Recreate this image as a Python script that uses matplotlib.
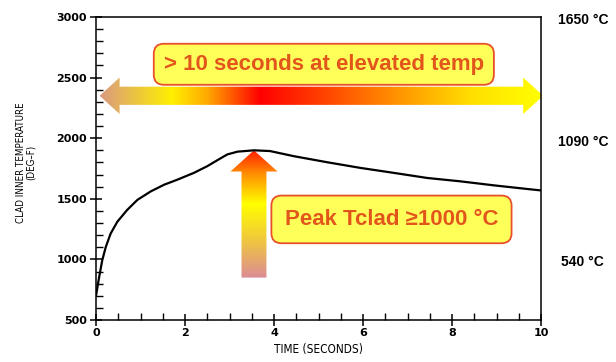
import numpy as np
import matplotlib.pyplot as plt
from matplotlib.colors import LinearSegmentedColormap
from matplotlib.patches import Polygon
from matplotlib.ticker import MultipleLocator
from matplotlib.transforms import ScaledTranslation

# Clad inner temperature transient (deg F) vs time (s)
time_s = [0.0, 0.07, 0.14, 0.22, 0.33, 0.48, 0.70, 0.93, 1.23, 1.53, 1.83,
          2.20, 2.50, 2.73, 2.95, 3.18, 3.55, 3.91, 4.44, 5.19, 5.94, 6.69,
          7.44, 8.19, 8.94, 9.69, 10.0]
clad_temp_f = [700, 853, 992, 1103, 1214, 1311, 1408, 1491, 1561, 1616, 1658,
               1714, 1769, 1819, 1866, 1889, 1900, 1894, 1852, 1802, 1755, 1714,
               1672, 1644, 1611, 1581, 1569]

# Celsius reference marks on the right-hand side
celsius_marks = [540, 1090, 1650]

x_ticks = [0, 2, 4, 6, 8, 10]
y_ticks = [500, 1000, 1500, 2000, 2500, 3000]

callout_span = "> 10 seconds at elevated temp"
callout_peak = "Peak Tclad \u22651000 \u00b0C"

BOX_FILL = "#ffff5a"
BOX_EDGE = "#e8502a"
TEXT_RED = "#e2561c"

fig = plt.figure(figsize=(6.16, 3.62), dpi=100)
ax = fig.add_axes([96 / 616, 42 / 362, 445 / 616, 303 / 362])

ax.plot(time_s, clad_temp_f, color="black", lw=1.6, zorder=3,
        solid_joinstyle="round")

ax.set_xlim(0, 10)
ax.set_ylim(500, 3000)
ax.set_xticks(x_ticks)
ax.set_yticks(y_ticks)
ax.xaxis.set_minor_locator(MultipleLocator(0.5))
ax.yaxis.set_minor_locator(MultipleLocator(100))
ax.tick_params(which="major", direction="inout", length=9, width=1.1,
               labelsize=8, pad=2)
ax.tick_params(which="minor", direction="in", length=5, width=1.0)
ax.tick_params(axis="x", pad=1)
for lab in ax.get_xticklabels() + ax.get_yticklabels():
    lab.set_fontweight("bold")
for s in ax.spines.values():
    s.set_linewidth(1.1)

ax.set_xlabel("TIME (SECONDS)", fontsize=8.5, fontstretch="condensed", labelpad=4)
ax.set_ylabel("CLAD INNER TEMPERATURE\n(DEG\u2013F)", fontsize=7,
              fontstretch="condensed", linespacing=0.95)
ax.yaxis.set_label_coords(-0.135, 0.52)

# Celsius equivalents placed at the matching Fahrenheit height
shift = ScaledTranslation(0, -3 / 100, fig.dpi_scale_trans)
for c in celsius_marks:
    ax.text(1.094, c * 9 / 5 + 32, f"{c} \u00b0C",
            transform=ax.get_yaxis_transform() + shift,
            ha="center", va="center", fontsize=10, fontweight="bold",
            family=["Liberation Sans", "DejaVu Sans"], clip_on=False)


def gradient_arrow(poly_xy, stops, horizontal):
    cmap = LinearSegmentedColormap.from_list("grad", stops)
    poly = Polygon(poly_xy, closed=True, facecolor="none", edgecolor="none")
    ax.add_patch(poly)
    xs = [p[0] for p in poly_xy]
    ys = [p[1] for p in poly_xy]
    ramp = np.linspace(0, 1, 256)
    img = ramp[None, :] if horizontal else ramp[:, None]
    im = ax.imshow(img, cmap=cmap, aspect="auto", origin="lower",
                   extent=[min(xs), max(xs), min(ys), max(ys)], zorder=2,
                   interpolation="bilinear")
    im.set_clip_path(poly)
    im.set_clip_on(True)


# Horizontal double-headed arrow spanning the transient
h_y, h_shaft, h_head, h_len = 2350, 75, 150, 0.45
x0, x1 = 0.08, 10.05
h_poly = [(x0, h_y), (x0 + h_len, h_y + h_head), (x0 + h_len, h_y + h_shaft),
          (x1 - h_len, h_y + h_shaft), (x1 - h_len, h_y + h_head), (x1, h_y),
          (x1 - h_len, h_y - h_head), (x1 - h_len, h_y - h_shaft),
          (x0 + h_len, h_y - h_shaft), (x0 + h_len, h_y - h_head)]
gradient_arrow(h_poly, [(0.0, "#d99a80"), (0.16, "#fff000"), (0.24, "#ffaa00"),
                        (0.36, "#ff0000"), (0.52, "#ff4a00"), (0.68, "#ff9800"),
                        (0.84, "#ffe000"), (1.0, "#ffff00")], True)

# Vertical arrow pointing at the peak temperature
i_peak = int(np.argmax(clad_temp_f))
px, py = time_s[i_peak], clad_temp_f[i_peak]
v_bottom, v_shaft, v_head, v_len = 850, 0.28, 0.53, 175
v_poly = [(px - v_shaft, v_bottom), (px + v_shaft, v_bottom),
          (px + v_shaft, py - v_len), (px + v_head, py - v_len), (px, py),
          (px - v_head, py - v_len), (px - v_shaft, py - v_len)]
gradient_arrow(v_poly, [(0.0, "#dc8c96"), (0.3, "#f0c83c"), (0.58, "#ffff00"),
                        (0.82, "#ff8c00"), (1.0, "#ff1e00")], False)

box = dict(boxstyle="round,pad=0.45,rounding_size=0.45", facecolor=BOX_FILL,
           edgecolor=BOX_EDGE, linewidth=1.3)
ax.text(5.12, 2610, callout_span, ha="center", va="center", fontsize=16,
        fontweight="bold", color=TEXT_RED, family=["Liberation Sans", "DejaVu Sans"],
        bbox=box, zorder=4)
ax.text(6.64, 1330, callout_peak, ha="center", va="center", fontsize=16,
        fontweight="bold", color=TEXT_RED, family=["Liberation Sans", "DejaVu Sans"],
        bbox=dict(box, boxstyle="round,pad=0.6,rounding_size=0.45"), zorder=4)

fig.savefig("out.png", dpi=100)
